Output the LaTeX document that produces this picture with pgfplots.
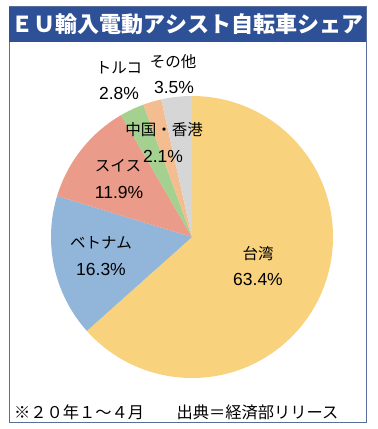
\documentclass[border=0pt]{standalone}
\usepackage{fontspec}
\usepackage{pgfplots}
\usepackage{pgfplotstable}
\pgfplotsset{compat=1.18}
\setmainfont{Noto Sans CJK JP}
\newfontfamily\numfont{Liberation Sans}
\definecolor{cTW}{HTML}{F9D27D}
\definecolor{cVN}{HTML}{92B6DA}
\definecolor{cCH}{HTML}{EA9B89}
\definecolor{cTR}{HTML}{A4D18F}
\definecolor{cCN}{HTML}{F4BD8F}
\definecolor{cOT}{HTML}{D6D6D6}
\definecolor{titleblue}{HTML}{2E5096}
\definecolor{framecol}{HTML}{5A6E9A}
\pgfplotstableread{
value color
63.4 cTW
16.3 cVN
11.9 cCH
2.8 cTR
2.1 cCN
3.5 cOT
}\piedata
\begin{document}
\begin{tikzpicture}[x=1pt,y=1pt]
\path (0,0) rectangle (378,429);
\draw[framecol, line width=1pt] (9,6) rectangle (366,422);
\fill[titleblue] (9,387) rectangle (366,422);
\node[white, font=\fontsize{22}{22}\selectfont\bfseries] at (187.5,404.5) {ＥＵ輸入電動アシスト自転車シェア};
\begin{axis}[at={(192pt,192pt)}, anchor=center, width=282pt, height=282pt,
  scale only axis, hide axis, xmin=-1, xmax=1, ymin=-1, ymax=1, clip=false]
\def\cum{90}
\pgfplotsforeachungrouped \i in {0,...,5}{%
  \pgfplotstablegetelem{\i}{value}\of\piedata \let\v\pgfplotsretval
  \pgfplotstablegetelem{\i}{color}\of\piedata \let\c\pgfplotsretval
  \pgfmathsetmacro\e{\cum-3.6*\v}%
  \edef\temp{\noexpand\fill[\c] (axis cs:0,0) -- (axis cs:{cos(\cum)},{sin(\cum)}) arc[start angle=\cum, end angle=\e, radius=141pt] -- cycle;}%
  \temp
  \global\let\cum\e
}
\end{axis}
\begin{scope}[every node/.style={font=\fontsize{15.5}{16}\selectfont, inner sep=0pt},
  num/.style={font=\fontsize{17.5}{18}\selectfont\numfont}]
\node at (258,175) {台湾};
\node[num] at (258,150) {63.4\%};
\node at (101,186) {ベトナム};
\node[num] at (101,160) {16.3\%};
\node at (118,263) {スイス};
\node[num] at (119,237) {11.9\%};
\node at (164,299) {中国・香港};
\node[num] at (163,273) {2.1\%};
\node at (119,361) {トルコ};
\node[num] at (119,336) {2.8\%};
\node at (173,367) {その他};
\node[num] at (174,342) {3.5\%};
\node[anchor=west, font=\fontsize{16.25}{17}\selectfont] at (14,17) {※２０年１～４月　　出典＝経済部リリース};
\end{scope}
\end{tikzpicture}
\end{document}
